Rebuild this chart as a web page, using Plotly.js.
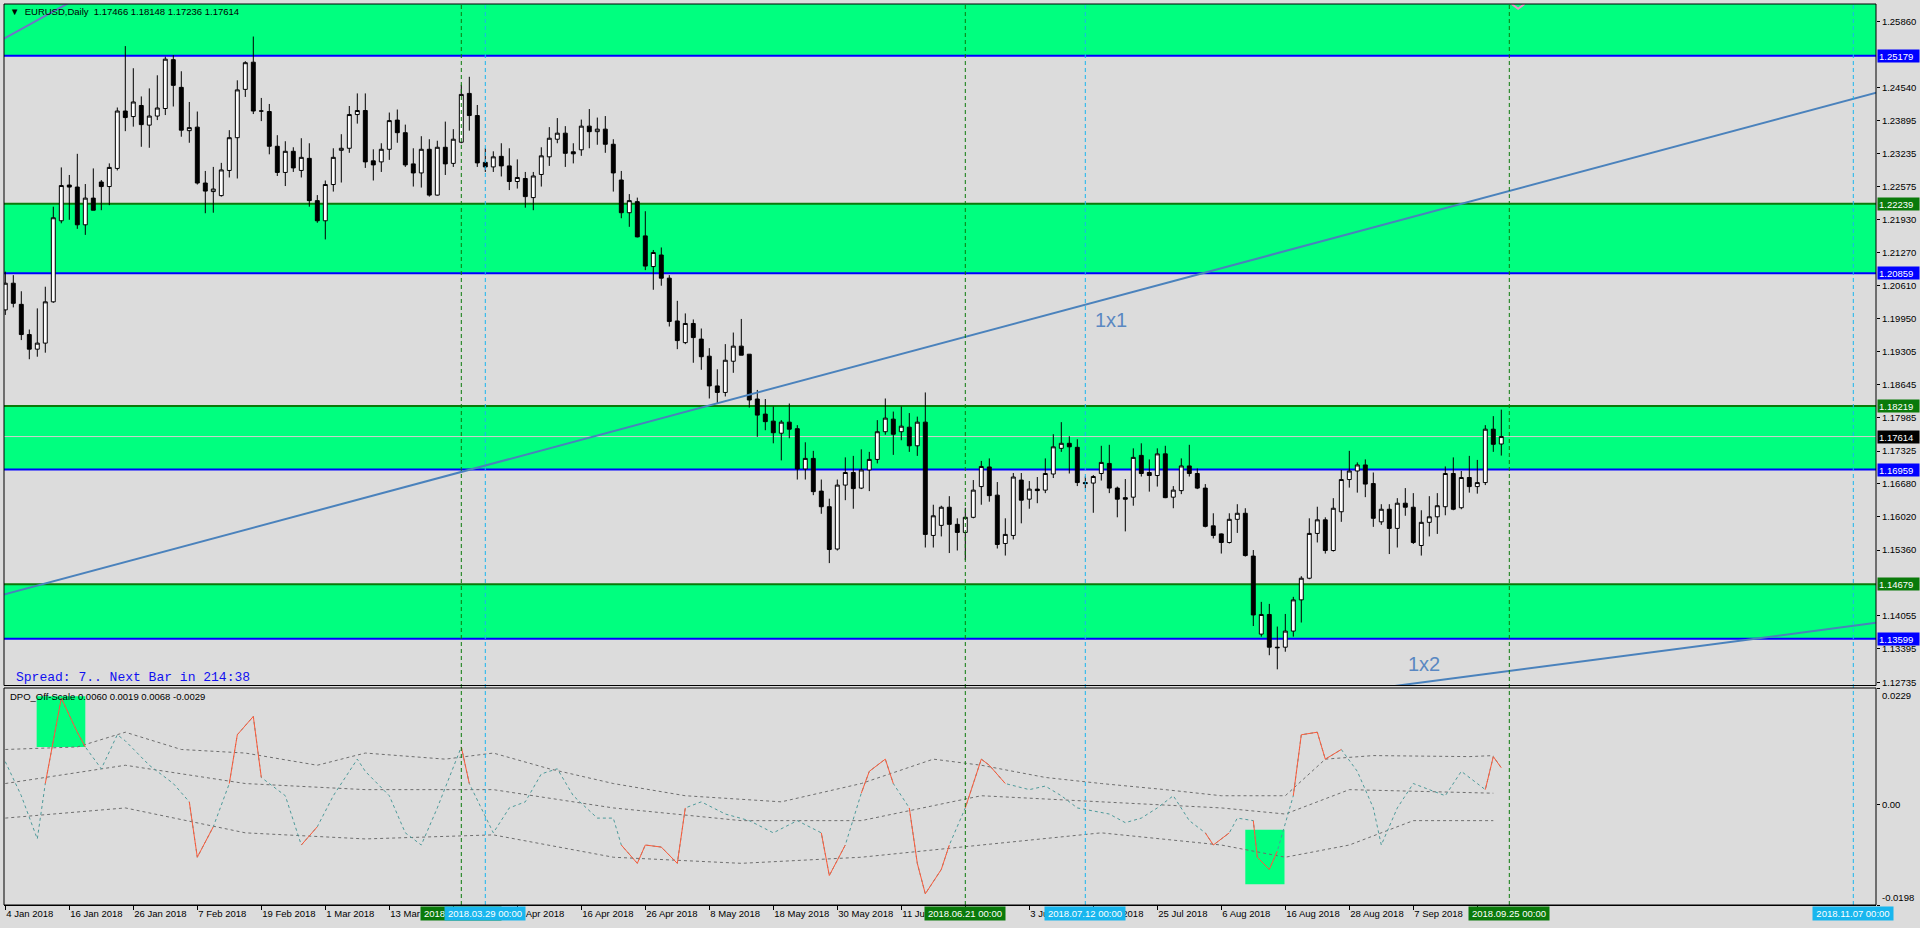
<!DOCTYPE html>
<html><head><meta charset="utf-8">
<script src="https://cdn.plot.ly/plotly-3.0.1.min.js"></script>
<style>html,body{margin:0;padding:0;background:#DCDCDC;overflow:hidden}#chart{width:1920px;height:928px}</style>
</head><body><div id="chart"></div>
<script>
// ---------- DATA ----------
const firstDay = '2018-01-04', lastDay = '2018-09-24';
const openP = [
1.2013,1.2066,1.2024,1.1964,1.1935,1.1947,1.2029,1.2190,1.2261,1.2257,
1.2182,1.2235,1.2267,1.2258,1.2294,1.2408,1.2397,1.2419,1.2380,1.2398,
1.2413,1.2510,1.2455,1.2369,1.2376,1.2265,1.2248,1.2240,1.2290,1.2355,
1.2451,1.2505,1.2408,1.2407,1.2338,1.2286,1.2328,1.2290,1.2314,1.2230,
1.2190,1.2262,1.2330,1.2334,1.2401,1.2409,1.2309,1.2307,1.2332,1.2390,
1.2365,1.2303,1.2285,1.2332,1.2241,1.2336,1.2304,1.2346,1.2443,1.2399,
1.2306,1.2297,1.2318,1.2299,1.2268,1.2274,1.2236,1.2282,1.2317,1.2352,
1.2364,1.2327,1.2331,1.2378,1.2367,1.2372,1.2342,1.2271,1.2206,1.2228,
1.2160,1.2099,1.2122,1.2076,1.1991,1.1948,1.1986,1.1955,1.1921,1.1862,
1.1849,1.1911,1.1941,1.1925,1.1836,1.1806,1.1792,1.1768,1.1790,1.1777,
1.1697,1.1718,1.1653,1.1622,1.1538,1.1665,1.1690,1.1659,1.1695,1.1716,
1.1771,1.1796,1.1771,1.1780,1.1743,1.1790,1.1565,1.1585,1.1621,1.1587,
1.1571,1.1601,1.1662,1.1701,1.1645,1.1549,1.1565,1.1675,1.1637,1.1657,
1.1655,1.1687,1.1738,1.1748,1.1740,1.1670,1.1669,1.1688,1.1708,1.1659,
1.1640,1.1641,1.1724,1.1690,1.1684,1.1727,1.1641,1.1654,1.1703,1.1688,
1.1659,1.1584,1.1568,1.1551,1.1597,1.1609,1.1524,1.1369,1.1408,1.1343,
1.1343,1.1375,1.1437,1.1480,1.1569,1.1596,1.1535,1.1612,1.1676,1.1693,
1.1705,1.1668,1.1592,1.1617,1.1579,1.1629,1.1621,1.1545,1.1591,1.1602,
1.1622,1.1688,1.1620,1.1680,1.1662,1.1670,1.1776,1.17466];
const highP = [
1.2089,1.2082,1.2050,1.1974,1.2016,1.2059,1.2218,1.2296,1.2281,1.2323,
1.2263,1.2294,1.2271,1.2304,1.2415,1.2537,1.2493,1.2437,1.2453,1.2479,
1.2516,1.2519,1.2487,1.2426,1.2407,1.2289,1.2297,1.2305,1.2370,1.2469,
1.2507,1.2556,1.2434,1.2422,1.2360,1.2348,1.2336,1.2354,1.2344,1.2241,
1.2270,1.2334,1.2362,1.2418,1.2443,1.2443,1.2332,1.2344,1.2405,1.2411,
1.2381,1.2334,1.2358,1.2352,1.2349,1.2387,1.2372,1.2460,1.2476,1.2420,
1.2334,1.2328,1.2344,1.2334,1.2312,1.2287,1.2287,1.2336,1.2376,1.2394,
1.2378,1.2344,1.2391,1.2412,1.2395,1.2398,1.2352,1.2289,1.2243,1.2236,
1.2209,1.2132,1.2137,1.2082,1.2031,1.2006,1.1994,1.1976,1.1937,1.1895,
1.1945,1.1968,1.1995,1.1925,1.1854,1.1836,1.1821,1.1794,1.1827,1.1784,
1.1750,1.1733,1.1676,1.1638,1.1676,1.1720,1.1723,1.1736,1.1731,1.1794,
1.1837,1.1811,1.1821,1.1808,1.1801,1.1849,1.1626,1.1624,1.1643,1.1599,
1.1620,1.1675,1.1713,1.1718,1.1671,1.1599,1.1689,1.1689,1.1673,1.1681,
1.1718,1.1766,1.1790,1.1762,1.1756,1.1682,1.1685,1.1743,1.1745,1.1662,
1.1677,1.1738,1.1748,1.1716,1.1738,1.1743,1.1663,1.1718,1.1745,1.1698,
1.1667,1.1609,1.1569,1.1609,1.1627,1.1619,1.1536,1.1433,1.1429,1.1384,
1.1409,1.1443,1.1484,1.1599,1.1622,1.1601,1.1639,1.1695,1.1733,1.1710,
1.1716,1.1690,1.1627,1.1627,1.1639,1.1659,1.1649,1.1615,1.1643,1.1649,
1.1702,1.1720,1.1693,1.1723,1.1715,1.1784,1.1802,1.18148];
const lowP = [
1.2003,1.2018,1.1953,1.1915,1.1920,1.1928,1.2027,1.2185,1.2192,1.2174,
1.2162,1.2211,1.2211,1.2221,1.2290,1.2368,1.2377,1.2337,1.2335,1.2390,
1.2400,1.2417,1.2357,1.2345,1.2262,1.2205,1.2206,1.2238,1.2276,1.2274,
1.2436,1.2402,1.2388,1.2322,1.2279,1.2259,1.2287,1.2276,1.2218,1.2186,
1.2153,1.2248,1.2266,1.2325,1.2383,1.2295,1.2270,1.2287,1.2311,1.2345,
1.2297,1.2258,1.2256,1.2238,1.2240,1.2281,1.2297,1.2344,1.2369,1.2297,
1.2287,1.2287,1.2278,1.2251,1.2254,1.2216,1.2211,1.2258,1.2299,1.2344,
1.2297,1.2304,1.2319,1.2334,1.2341,1.2325,1.2248,1.2195,1.2178,1.2157,
1.2092,1.2053,1.2061,1.1980,1.1935,1.1945,1.1908,1.1894,1.1837,1.1826,
1.1841,1.1888,1.1923,1.1819,1.1761,1.1774,1.1748,1.1714,1.1758,1.1676,
1.1676,1.1645,1.1608,1.1510,1.1535,1.1635,1.1618,1.1657,1.1653,1.1708,
1.1765,1.1725,1.1754,1.1731,1.1723,1.1541,1.1541,1.1563,1.1530,1.1535,
1.1516,1.1599,1.1626,1.1632,1.1539,1.1525,1.1557,1.1589,1.1618,1.1629,
1.1649,1.1679,1.1731,1.1688,1.1663,1.1659,1.1610,1.1674,1.1649,1.1601,
1.1573,1.1624,1.1682,1.1652,1.1662,1.1639,1.1619,1.1647,1.1682,1.1657,
1.1581,1.1559,1.1529,1.1549,1.1570,1.1523,1.1385,1.1364,1.1327,1.1299,
1.1334,1.1364,1.1392,1.1478,1.1551,1.1529,1.1533,1.1592,1.1660,1.1650,
1.1641,1.1582,1.1586,1.1528,1.1541,1.1604,1.1548,1.1525,1.1563,1.1568,
1.1605,1.1615,1.1617,1.1650,1.1648,1.1665,1.1731,1.17236];
const closeP = [
1.2066,1.2026,1.1964,1.1935,1.1947,1.2029,1.2196,1.2260,1.2257,1.2182,
1.2235,1.2211,1.2258,1.2296,1.2408,1.2395,1.2426,1.2381,1.2398,1.2414,
1.2511,1.2459,1.2370,1.2375,1.2265,1.2249,1.2253,1.2291,1.2355,1.2450,
1.2504,1.2408,1.2408,1.2338,1.2286,1.2328,1.2295,1.2316,1.2230,1.2190,
1.2262,1.2316,1.2334,1.2401,1.2409,1.2307,1.2301,1.2332,1.2389,1.2365,
1.2301,1.2285,1.2332,1.2241,1.2336,1.2303,1.2352,1.2441,1.2399,1.2305,
1.2297,1.2317,1.2299,1.2268,1.2276,1.2238,1.2279,1.2319,1.2354,1.2364,
1.2324,1.2323,1.2378,1.2367,1.2372,1.2342,1.2285,1.2206,1.2230,1.2158,
1.2100,1.2127,1.2076,1.1990,1.1952,1.1986,1.1958,1.1920,1.1862,1.1849,
1.1913,1.1941,1.1923,1.1834,1.1804,1.1791,1.1769,1.1790,1.1776,1.1697,
1.1718,1.1652,1.1622,1.1537,1.1665,1.1690,1.1658,1.1695,1.1716,1.1771,
1.1798,1.1766,1.1782,1.1743,1.1790,1.1567,1.1604,1.1621,1.1587,1.1571,
1.1601,1.1655,1.1702,1.1644,1.1547,1.1567,1.1681,1.1635,1.1657,1.1654,
1.1688,1.1741,1.1748,1.1741,1.1670,1.1668,1.1682,1.1710,1.1659,1.1637,
1.1637,1.1720,1.1688,1.1684,1.1727,1.1640,1.1655,1.1703,1.1688,1.1659,
1.1583,1.1565,1.1551,1.1597,1.1609,1.1525,1.1407,1.1408,1.1343,1.1342,
1.1375,1.1437,1.1480,1.1569,1.1596,1.1535,1.1619,1.1676,1.1693,1.1705,
1.1667,1.1599,1.1617,1.1579,1.1629,1.1621,1.1551,1.1591,1.1602,1.1624,
1.1688,1.1617,1.1680,1.1662,1.1670,1.1776,1.1746,1.17614];

const xTickDates = ['2018-01-04','2018-01-16','2018-01-26','2018-02-07','2018-02-19','2018-03-01','2018-03-13','2018-03-23','2018-04-04','2018-04-16','2018-04-26','2018-05-08','2018-05-18','2018-05-30','2018-06-11','2018-06-21','2018-07-03','2018-07-13','2018-07-25','2018-08-06','2018-08-16','2018-08-28','2018-09-07','2018-09-19'];
// labels hidden under the time-line boxes are left empty
const xTickText = ['4 Jan 2018','16 Jan 2018','26 Jan 2018','7 Feb 2018','19 Feb 2018','1 Mar 2018','13 Mar 2018','','4 Apr 2018','16 Apr 2018','26 Apr 2018','8 May 2018','18 May 2018','30 May 2018','11 Jun 2018','','3 Jul 2018','13 Jul 2018','25 Jul 2018','6 Aug 2018','16 Aug 2018','28 Aug 2018','7 Sep 2018',''];
const priceTicks = [1.25860,1.24540,1.23895,1.23235,1.22575,1.21930,1.21270,1.20610,1.19950,1.19305,1.18645,1.17985,1.17325,1.16680,1.16020,1.15360,1.14055,1.13395,1.12735];

// support/resistance zones [low, high]
const zoneLow  = [1.25179, 1.20859, 1.16959, 1.13599];
const zoneHigh = [1.27000, 1.22239, 1.18219, 1.14679];
const lastPrice = 1.17614;

// vertical time lines
const vlineDates  = ['2018-03-26','2018-03-29','2018-06-21','2018-07-12','2018-09-25','2018-11-07'];
const vlineKinds  = ['g','b','g','b','g','b'];

// gann lines: [barIndexA, priceA, barIndexB, priceB]
const gannNames = ['2x1','1x1','1x2'];
const gannA_x = [0.0, 0.09, 175.3];
const gannA_p = [1.25531, 1.14487, 1.12693];
const gannB_x = [7.46, 233.7, 233.7];
const gannB_p = [1.26186, 1.24438, 1.13911];
// small pink marker touching the top edge (bar index / price)
const pinkX = [188.3, 189.1, 189.9];
const pinkP = [1.26206, 1.26110, 1.26206];

// indicator (DPO_Off-Scale) vertices: bar index / value
const dpoX = [0,2,4,5,7,9,10,12,14,15,18,21,23,24,26,28,29,31,32,35,37,39,41,44,45,48,50,52,54,57,58,61,63,65,67,69,71,74,76,77,79,80,82,84,85,87,90,93,96,99,102,103,105,107,108,110,111,113,114,115,117,118,120,122,123,125,128,130,132,134,138,140,142,144,146,148,150,151,153,154,156,156.5,158,159,161,162,164,165,167,169,171,172,174,176,180,182,184,185,186,187];
const dpoV = [0.0084,0.0017,-0.0068,0.0041,0.0209,0.0142,0.0113,0.0070,0.0137,0.0125,0.0077,0.0041,0.0005,-0.0104,-0.0044,0.0041,0.0137,0.0173,0.0053,0.0017,-0.0080,-0.0044,0.0017,0.0089,0.0065,0.0017,-0.0056,-0.0080,-0.0007,0.0113,0.0041,-0.0056,-0.0007,0.0005,0.0060,0.0070,0.0017,-0.0027,-0.0027,-0.0080,-0.0116,-0.0080,-0.0084,-0.0116,-0.0007,0.0005,-0.0019,-0.0032,-0.0056,-0.0032,-0.0056,-0.0140,-0.0080,0.0022,0.0065,0.0089,0.0041,-0.0007,-0.0116,-0.0176,-0.0128,-0.0080,-0.0007,0.0089,0.0077,0.0041,0.0029,0.0036,0.0017,-0.0007,-0.0019,-0.0036,-0.0027,-0.0007,0.0017,-0.0032,-0.0056,-0.0080,-0.0056,-0.0027,-0.0032,-0.0104,-0.0128,-0.0092,0.0017,0.0137,0.0142,0.0089,0.0108,0.0065,-0.0007,-0.0080,-0.0007,0.0041,0.0017,0.0065,0.0041,0.0029,0.0094,0.0072];
const dpoRedX = [5,7,9,10,null,23,24,26,null,28,29,31,32,null,37,39,null,57,58,null,77,79,80,82,84,85,null,102,103,105,null,107,108,110,111,null,113,114,115,117,118,null,120,122,123,125,null,150,151,153,null,156,156.5,158,159,null,161,162,164,165,167,null,185,186,187];
const dpoRedV = [0.0041,0.0209,0.0142,0.0113,null,0.0005,-0.0104,-0.0044,null,0.0041,0.0137,0.0173,0.0053,null,-0.0080,-0.0044,null,0.0113,0.0041,null,-0.0080,-0.0116,-0.0080,-0.0084,-0.0116,-0.0007,null,-0.0056,-0.0140,-0.0080,null,0.0022,0.0065,0.0089,0.0041,null,-0.0007,-0.0116,-0.0176,-0.0128,-0.0080,null,-0.0007,0.0089,0.0077,0.0041,null,-0.0056,-0.0080,-0.0056,null,-0.0032,-0.0104,-0.0128,-0.0092,null,0.0017,0.0137,0.0142,0.0089,0.0108,null,0.0029,0.0094,0.0072];
const upX = [0,9,15,22,30,39,45,55,61,68,76,85,97,107,116,122,130,137,145,152,160,165,171,183,186];
const upV = [0.0108,0.0113,0.0142,0.0108,0.0101,0.0077,0.0101,0.0089,0.0101,0.0070,0.0041,0.0017,0.0005,0.0041,0.0089,0.0077,0.0053,0.0041,0.0029,0.0017,0.0017,0.0089,0.0096,0.0094,0.0096];
const midX = [0,15,30,45,61,76,92,107,122,137,152,160,168,186];
const midV = [0.0041,0.0077,0.0041,0.0029,0.0029,-0.0007,-0.0032,-0.0032,0.0017,0.0005,-0.0007,-0.0019,0.0029,0.0022];
const loX = [0,15,30,45,61,76,92,107,122,137,152,160,168,176,186];
const loV = [-0.0027,-0.0007,-0.0056,-0.0068,-0.0060,-0.0104,-0.0116,-0.0104,-0.0080,-0.0056,-0.0080,-0.0104,-0.0080,-0.0032,-0.0032];
// highlighted boxes in indicator window [x0,x1,v0,v1]
const boxX0 = [3.92, 155.0], boxX1 = [10.0, 159.9], boxV0 = [0.0113, -0.0157], boxV1 = [0.0213, -0.0050];

// ---------- BUILD ----------
function tradingDays(a, b) {
  const out = []; const d = new Date(a + 'T00:00:00Z'); const e = new Date(b + 'T00:00:00Z');
  while (d <= e) { const w = d.getUTCDay(); if (w !== 0 && w !== 6) out.push(d.toISOString().slice(0, 10)); d.setUTCDate(d.getUTCDate() + 1); }
  return out;
}
const dates = tradingDays(firstDay, lastDay);
const barIdx = dates.map((d, i) => i);
function dateIndex(ds) {
  const k = dates.indexOf(ds); if (k >= 0) return k;
  const last = dates.length - 1;
  return last + (Date.parse(ds) - Date.parse(dates[last])) / 86400000;
}

const W = 1920, H = 928, mL = 4, mR = 44, mT = 4, mB = 23;
const plotW = W - mL - mR, plotH = H - mT - mB;
const px = v => (v - mL) / plotW;
const py = v => (H - mB - v) / plotH;
const BAR = 8, X0PX = 5.3;
const xr = [(mL - X0PX) / BAR, (W - mR - X0PX) / BAR];

const FONT = 'Liberation Sans, Arial, sans-serif';
const traces = [];
traces.push({
  type: 'candlestick', x: barIdx, open: openP, high: highP, low: lowP, close: closeP,
  xaxis: 'x', yaxis: 'y2', whiskerwidth: 0, hoverinfo: 'skip', showlegend: false,
  increasing: { line: { color: '#000000', width: 1 }, fillcolor: '#FFFFFF' },
  decreasing: { line: { color: '#000000', width: 1 }, fillcolor: '#000000' }
});
const gray = { color: '#6E6E6E', width: 1, dash: '3px,3px' };
traces.push({ type: 'scatter', mode: 'lines', x: upX, y: upV, line: gray, xaxis: 'x', yaxis: 'y', hoverinfo: 'skip', showlegend: false });
traces.push({ type: 'scatter', mode: 'lines', x: midX, y: midV, line: gray, xaxis: 'x', yaxis: 'y', hoverinfo: 'skip', showlegend: false });
traces.push({ type: 'scatter', mode: 'lines', x: loX, y: loV, line: gray, xaxis: 'x', yaxis: 'y', hoverinfo: 'skip', showlegend: false });
traces.push({ type: 'scatter', mode: 'lines', x: dpoX, y: dpoV, line: { color: '#4E9A9A', width: 1, dash: '3px,3px' }, xaxis: 'x', yaxis: 'y', hoverinfo: 'skip', showlegend: false });
traces.push({ type: 'scatter', mode: 'lines', x: dpoRedX, y: dpoRedV, connectgaps: false, line: { color: '#FF5A3A', width: 1 }, xaxis: 'x', yaxis: 'y', hoverinfo: 'skip', showlegend: false });
traces.push({ type: 'scatter', mode: 'lines', x: pinkX, y: pinkP, line: { color: '#F08CC8', width: 2 }, xaxis: 'x', yaxis: 'y2', hoverinfo: 'skip', showlegend: false, cliponaxis: true });

const shapes = [];
for (let k = 0; k < boxX0.length; k++)
  shapes.push({ type: 'rect', xref: 'x', yref: 'y', x0: boxX0[k], x1: boxX1[k], y0: boxV0[k], y1: boxV1[k], fillcolor: '#00FF7F', line: { width: 0 }, layer: 'below' });
for (let k = 0; k < zoneLow.length; k++)
  shapes.push({ type: 'rect', xref: 'x domain', yref: 'y2', x0: 0, x1: 1, y0: zoneLow[k], y1: zoneHigh[k], fillcolor: '#00FF7F', line: { width: 0 }, layer: 'below' });
shapes.push({ type: 'line', xref: 'x domain', yref: 'y2', x0: 0, x1: 1, y0: lastPrice, y1: lastPrice, line: { color: '#D0D0D0', width: 1 }, layer: 'below' });
for (let k = 0; k < zoneLow.length; k++) {
  shapes.push({ type: 'line', xref: 'x domain', yref: 'y2', x0: 0, x1: 1, y0: zoneHigh[k], y1: zoneHigh[k], line: { color: '#0A7A0A', width: 2 }, layer: 'below' });
  shapes.push({ type: 'line', xref: 'x domain', yref: 'y2', x0: 0, x1: 1, y0: zoneLow[k], y1: zoneLow[k], line: { color: '#0000FF', width: 2 }, layer: 'below' });
}
for (let k = 0; k < gannNames.length; k++) {
  const s = (gannB_p[k] - gannA_p[k]) / (gannB_x[k] - gannA_x[k]);
  const xa = xr[0] - 1, xb = xr[1] + 1;
  shapes.push({ type: 'line', xref: 'x', yref: 'y2', x0: xa, x1: xb,
    y0: gannA_p[k] + s * (xa - gannA_x[k]), y1: gannA_p[k] + s * (xb - gannA_x[k]),
    line: { color: k === 0 ? '#6F74C8' : '#4A82BC', width: 2 }, layer: 'above' });
}
const vColor = { g: '#0A7A0A', b: '#19B6EE' };
for (let k = 0; k < vlineDates.length; k++) {
  const xi = dateIndex(vlineDates[k]);
  shapes.push({ type: 'line', xref: 'x', yref: 'paper', x0: xi, x1: xi, y0: 0, y1: 1, line: { color: vColor[vlineKinds[k]], width: 1, dash: '4px,3px' }, layer: 'above' });
}
shapes.push({ type: 'rect', xref: 'x domain', yref: 'y2 domain', x0: 0, x1: 1, y0: 0, y1: 1, line: { color: '#000', width: 1 }, fillcolor: 'rgba(0,0,0,0)', layer: 'above' });
shapes.push({ type: 'rect', xref: 'x domain', yref: 'y domain', x0: 0, x1: 1, y0: 0, y1: 1, line: { color: '#000', width: 1 }, fillcolor: 'rgba(0,0,0,0)', layer: 'above' });

const ann = [];
ann.push({ xref: 'paper', yref: 'paper', x: px(8), y: py(12), xanchor: 'left', yanchor: 'middle', showarrow: false,
  text: '\u25BC  EURUSD,Daily  1.17466 1.18148 1.17236 1.17614', font: { family: FONT, size: 9.5, color: '#000' } });
ann.push({ xref: 'paper', yref: 'paper', x: px(14), y: py(677), xanchor: 'left', yanchor: 'middle', showarrow: false,
  text: 'Spread: 7.. Next Bar in 214:38', font: { family: 'Liberation Mono, Courier New, monospace', size: 13, color: '#1010F0' } });
ann.push({ xref: 'paper', yref: 'paper', x: px(8), y: py(696), xanchor: 'left', yanchor: 'middle', showarrow: false,
  text: 'DPO_Off-Scale 0.0060 0.0019 0.0068 -0.0029', font: { family: FONT, size: 9.5, color: '#000' } });
ann.push({ xref: 'paper', yref: 'paper', x: px(1093), y: py(320), xanchor: 'left', yanchor: 'middle', showarrow: false,
  text: '1x1', font: { family: FONT, size: 20, color: '#5A88C2' } });
ann.push({ xref: 'paper', yref: 'paper', x: px(1406), y: py(664), xanchor: 'left', yanchor: 'middle', showarrow: false,
  text: '1x2', font: { family: FONT, size: 20, color: '#5A88C2' } });
const lvlList = [], lvlCol = [];
for (let k = 0; k < zoneLow.length; k++) { lvlList.push(zoneHigh[k], zoneLow[k]); lvlCol.push('#0A7A0A', '#0000FF'); }
lvlList.push(lastPrice); lvlCol.push('#000000');
const yMain = [1.12669, 1.26206];
for (let k = 0; k < lvlList.length; k++) {
  if (lvlList[k] < yMain[0] || lvlList[k] > yMain[1]) continue;
  ann.push({ xref: 'paper', yref: 'y2', x: px(1877), y: lvlList[k], xanchor: 'left', yanchor: 'middle', showarrow: false,
    text: lvlList[k].toFixed(5), bgcolor: lvlCol[k], borderpad: 1, width: 39, height: 10, align: 'left',
    font: { family: FONT, size: 9.5, color: '#FFFFFF' } });
}
ann.push({ xref: 'paper', yref: 'y', x: px(1880), y: 0.0229, xanchor: 'left', yanchor: 'top', showarrow: false, text: '0.0229', font: { family: FONT, size: 9.5, color: '#000' } });
ann.push({ xref: 'paper', yref: 'y', x: px(1880), y: -0.0198, xanchor: 'left', yanchor: 'bottom', showarrow: false, text: '-0.0198', font: { family: FONT, size: 9.5, color: '#000' } });
const vBg = { g: '#0A7A0A', b: '#19B6EE' };
for (let k = 0; k < vlineDates.length; k++) {
  const xi = dateIndex(vlineDates[k]);
  ann.push({ xref: 'x', yref: 'paper', x: xi, y: py(913.5), xanchor: 'center', yanchor: 'middle', showarrow: false,
    text: vlineDates[k].replace(/-/g, '.') + ' 00:00', bgcolor: vBg[vlineKinds[k]], borderpad: 1, width: 78, height: 11,
    font: { family: FONT, size: 9.5, color: '#FFFFFF' } });
}

const layout = {
  width: W, height: H, margin: { l: mL, r: mR, t: mT, b: mB },
  paper_bgcolor: '#DCDCDC', plot_bgcolor: '#DCDCDC', showlegend: false, dragmode: false,
  xaxis: { domain: [0, 1], range: xr, anchor: 'y', showgrid: false, zeroline: false,
    tickmode: 'array', tickvals: xTickDates.map(dateIndex), ticktext: xTickText,
    ticks: 'outside', ticklen: 4, tickcolor: '#000', ticklabelposition: 'outside right',
    tickfont: { family: FONT, size: 9.5, color: '#000' }, showline: true, linecolor: '#000', linewidth: 1,
    rangeslider: { visible: false }, fixedrange: true },
  yaxis: { domain: [0, py(688)], range: [-0.0198, 0.0229], side: 'right', anchor: 'x', showgrid: false, zeroline: false,
    tickmode: 'array', tickvals: [0.0229, 0, -0.0198], ticktext: ['', '0.00', ''], ticks: 'outside', ticklen: 3, tickcolor: '#000',
    tickfont: { family: FONT, size: 9.5, color: '#000' }, fixedrange: true },
  yaxis2: { domain: [py(685.5), 1], range: yMain, side: 'right', anchor: 'x', showgrid: false, zeroline: false,
    tickmode: 'array', tickvals: priceTicks, ticktext: priceTicks.map(v => v.toFixed(5)), ticks: 'outside', ticklen: 3, tickcolor: '#000',
    tickfont: { family: FONT, size: 9.5, color: '#000' }, fixedrange: true },
  shapes: shapes, annotations: ann
};
Plotly.newPlot('chart', traces, layout, { staticPlot: true, displayModeBar: false });
</script></body></html>
